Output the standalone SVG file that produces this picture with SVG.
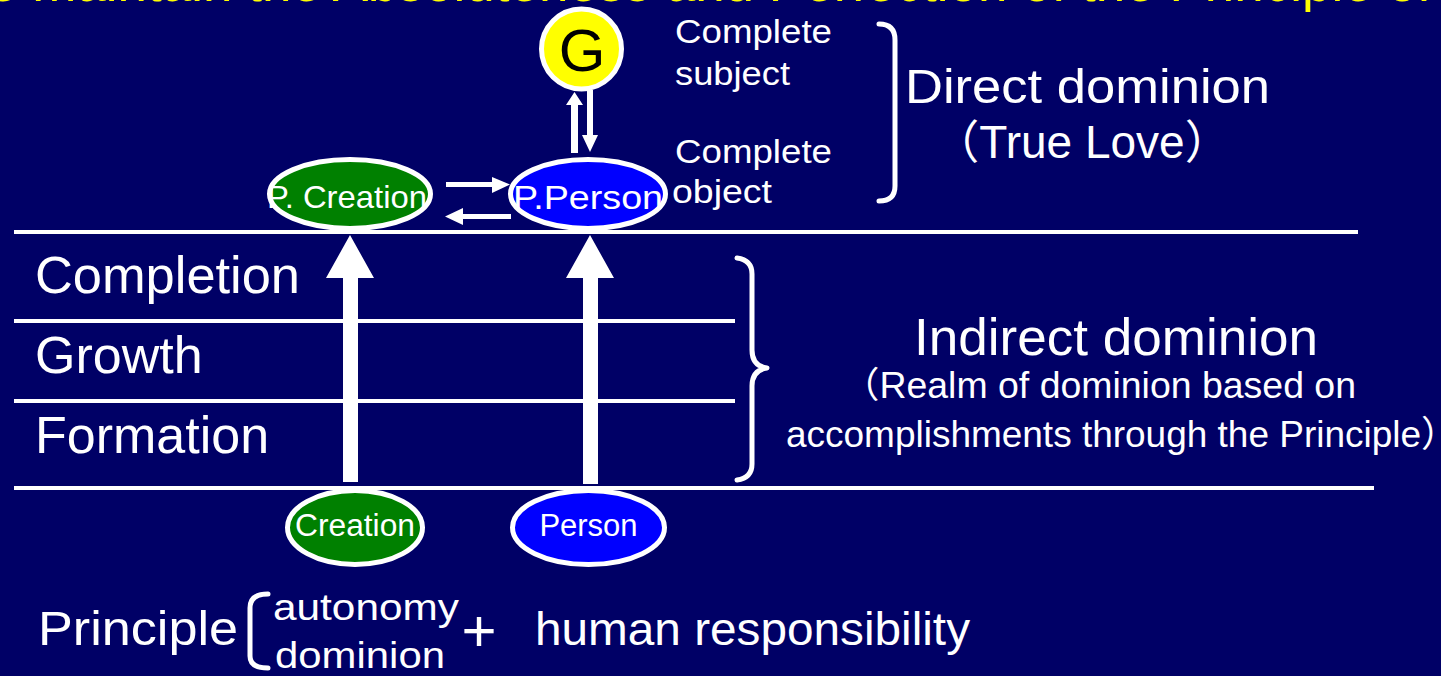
<svg xmlns="http://www.w3.org/2000/svg" width="1441" height="676" viewBox="0 0 1441 676">
<style>
text{font-family:"Liberation Sans",Arial,"Noto Sans CJK JP",sans-serif;fill:#fff}
.ln{stroke:#fff;stroke-width:4;fill:none}
.br{stroke:#fff;stroke-width:5;fill:none;stroke-linecap:round;stroke-linejoin:round}
.wh{fill:#fff}
.gr{fill:#008000;stroke:#fff;stroke-width:5}
.bl{fill:#0000ff;stroke:#fff;stroke-width:5}
</style>
<rect width="1441" height="676" fill="#000066"/>
<text x="-12" y="1" font-size="53" style="fill:#ffff00">e maintain the Absoluteness and Perfection of the Principle of</text>
<g id="levels">
<line class="ln" x1="14" y1="232" x2="1358" y2="232"/>
<line class="ln" x1="14" y1="321" x2="735" y2="321"/>
<line class="ln" x1="14" y1="401" x2="735" y2="401"/>
<line class="ln" x1="14" y1="488" x2="1374" y2="488"/>
<text x="35" y="293" font-size="52" textLength="265" lengthAdjust="spacingAndGlyphs">Completion</text>
<text x="35" y="373" font-size="52">Growth</text>
<text x="35" y="453" font-size="52">Formation</text>
</g>
<g id="connectors">
<polygon class="wh" points="343,482 343,278 326,278 350,235 374,278 358,278 358,482"/>
<polygon class="wh" points="583,484 583,278 566,278 590,235 614,278 598,278 598,484"/>
<polygon class="wh" points="571,153 571,105 566,105 574.5,92 583,105 578,105 578,153"/>
<polygon class="wh" points="587,90 587,135 582,135 590,152 598,135 593,135 593,90"/>
<polygon class="wh" points="446,182 492,182 492,177 510,184.5 492,193 492,187 446,187"/>
<polygon class="wh" points="511,214 463,214 463,208 445,216.5 463,225 463,219 511,219"/>
</g>
<g id="G">
<circle cx="581.5" cy="49" r="40" fill="#ffff00" stroke="#fff" stroke-width="5"/>
<text x="582" y="71" font-size="60" text-anchor="middle" style="fill:#000">G</text>
</g>
<g id="p-creation">
<ellipse class="gr" cx="350" cy="194" rx="80.5" ry="34.5"/>
<text x="347" y="208" font-size="32" text-anchor="middle" textLength="160" lengthAdjust="spacingAndGlyphs">P. Creation</text>
</g>
<g id="p-person">
<ellipse class="bl" cx="588" cy="194" rx="77.5" ry="34.5"/>
<text x="588" y="209" font-size="34" text-anchor="middle" textLength="150" lengthAdjust="spacingAndGlyphs">P.Person</text>
</g>
<g id="creation">
<ellipse class="gr" cx="355" cy="527.5" rx="67.5" ry="37"/>
<text x="355" y="536" font-size="31" text-anchor="middle" textLength="120" lengthAdjust="spacingAndGlyphs">Creation</text>
</g>
<g id="person">
<ellipse class="bl" cx="588.5" cy="527.5" rx="76" ry="37"/>
<text x="588.5" y="536" font-size="31" text-anchor="middle">Person</text>
</g>
<g id="direct">
<text x="675" y="43" font-size="33" textLength="157" lengthAdjust="spacingAndGlyphs">Complete</text>
<text x="675" y="85" font-size="33" textLength="115" lengthAdjust="spacingAndGlyphs">subject</text>
<text x="675" y="163" font-size="33" textLength="157" lengthAdjust="spacingAndGlyphs">Complete</text>
<text x="672" y="203" font-size="33" textLength="100" lengthAdjust="spacingAndGlyphs">object</text>
<path class="br" d="M879,24 Q895,24 895,40 L895,186 Q895,201 879,201"/>
<text x="905" y="103" font-size="49" textLength="365" lengthAdjust="spacingAndGlyphs">Direct dominion</text>
<text x="1082" y="158" font-size="46" text-anchor="middle">（True Love）</text>
</g>
<g id="indirect">
<path class="br" d="M737,258 Q752,260 752,274 L752,350 Q752,366 767,368 Q752,370 752,386 L752,464 Q752,478 737,480"/>
<text x="914" y="355" font-size="52" textLength="404" lengthAdjust="spacingAndGlyphs">Indirect dominion</text>
<text x="842" y="398" font-size="36" textLength="514" lengthAdjust="spacingAndGlyphs">（Realm of dominion based on</text>
<text x="786" y="447" font-size="36" textLength="672" lengthAdjust="spacingAndGlyphs">accomplishments through the Principle）</text>
</g>
<g id="principle">
<text x="38" y="645" font-size="48" textLength="200" lengthAdjust="spacingAndGlyphs">Principle</text>
<path class="br" d="M268,594 Q250,594 250,608 L250,656 Q250,668 268,668"/>
<text x="273" y="620" font-size="37" textLength="186" lengthAdjust="spacingAndGlyphs">autonomy</text>
<text x="275" y="668" font-size="37" textLength="170" lengthAdjust="spacingAndGlyphs">dominion</text>
<text x="479" y="651" font-size="60" text-anchor="middle">+</text>
<text x="535" y="645" font-size="47" textLength="435" lengthAdjust="spacingAndGlyphs">human responsibility</text>
</g>
</svg>
